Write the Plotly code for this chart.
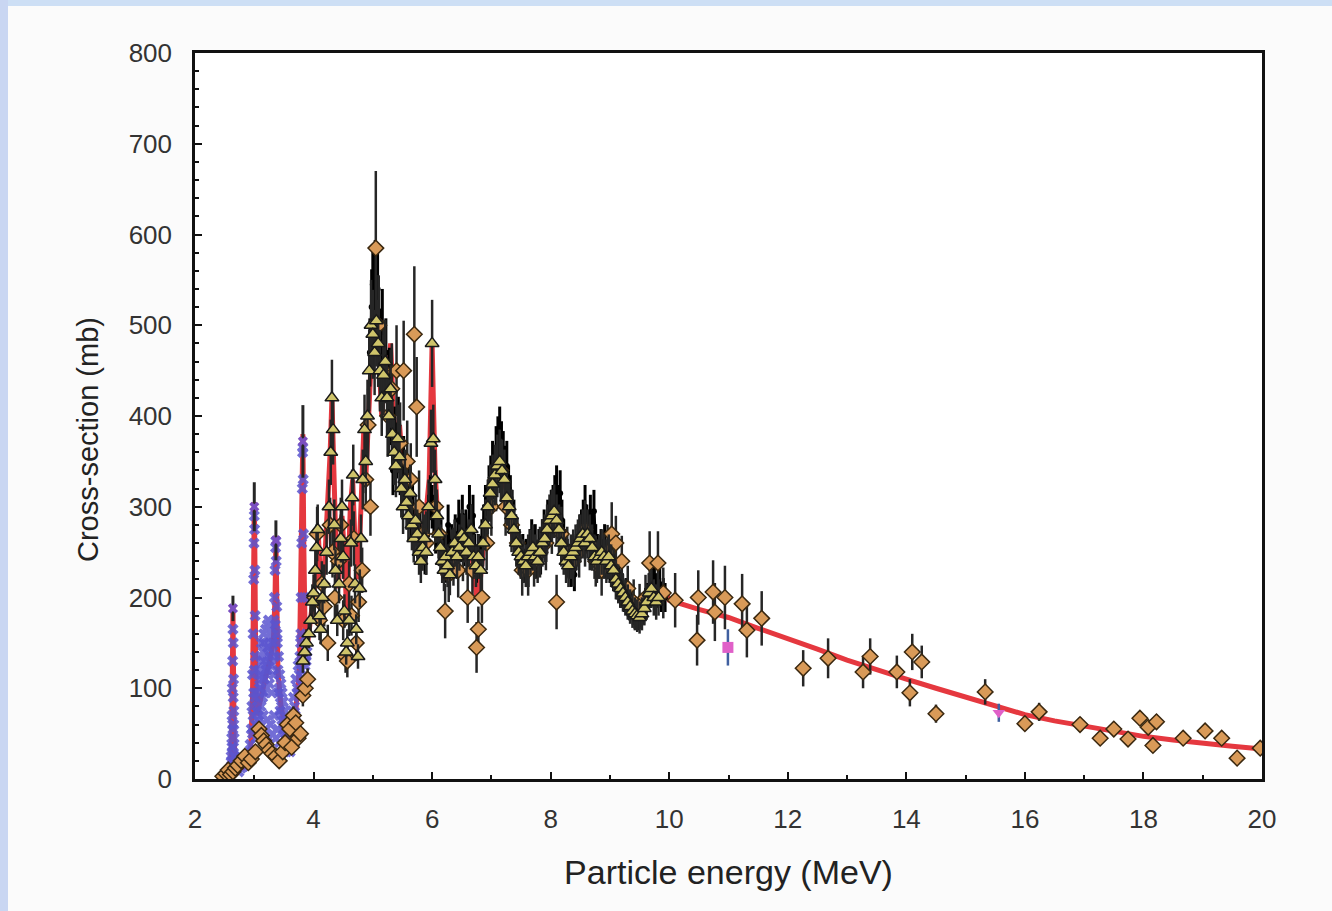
import plotly.graph_objects as go

# ---------------- data ----------------
# Evaluated cross-section curve (red)
RED_E = [2.40, 2.50, 2.56, 2.60, 2.62, 2.63, 2.64, 2.65, 2.66, 2.68,
         2.72, 2.80, 2.88, 2.94, 2.97, 2.99, 3.00, 3.01, 3.025, 3.04,
         3.08, 3.14, 3.20, 3.26, 3.32, 3.35, 3.365, 3.38, 3.40, 3.45,
         3.52, 3.58, 3.64, 3.70, 3.76, 3.80, 3.82, 3.835, 3.86, 3.90,
         3.95, 4.00, 4.05, 4.08, 4.12, 4.18, 4.22, 4.28, 4.31, 4.34,
         4.38, 4.42, 4.48, 4.52, 4.56, 4.62, 4.66, 4.70, 4.75, 4.80,
         4.85, 4.88, 4.92, 4.96, 5.00, 5.03, 5.07, 5.10, 5.15, 5.20,
         5.25, 5.30, 5.35, 5.40, 5.45, 5.50, 5.55, 5.60, 5.65, 5.70,
         5.75, 5.80, 5.85, 5.90, 5.95, 5.98, 6.00, 6.02, 6.05, 6.10,
         6.15, 6.20, 6.25, 6.30, 6.35, 6.40, 6.45, 6.50, 6.55, 6.60,
         6.65, 6.70, 6.75, 6.80, 6.85, 6.90, 6.95, 7.00, 7.05, 7.10,
         7.15, 7.20, 7.25, 7.30, 7.35, 7.40, 7.45, 7.50, 7.55, 7.60,
         7.65, 7.70, 7.75, 7.80, 7.85, 7.90, 7.95, 8.00, 8.05, 8.10,
         8.15, 8.20, 8.25, 8.30, 8.35, 8.40, 8.45, 8.50, 8.55, 8.60,
         8.65, 8.70, 8.75, 8.80, 8.85, 8.90, 8.95, 9.00, 9.05, 9.10,
         9.15, 9.20, 9.25, 9.30, 9.35, 9.40, 9.45, 9.50, 9.55, 9.60,
         9.65, 9.70, 9.75, 9.80, 9.85, 9.90, 9.95, 10.0, 10.5, 11.0,
         11.5, 12.0, 12.5, 13.0, 13.5, 14.0, 14.5, 15.0, 15.5, 16.0,
         16.5, 17.0, 17.5, 18.0, 18.5, 19.0, 19.5, 20.0]
RED_S = [0, 2, 5, 15, 45, 110, 190, 120, 45, 18,
         12, 12, 18, 35, 90, 220, 305, 250, 120, 70,
         80, 100, 115, 130, 150, 200, 268, 200, 120, 80,
         55, 40, 50, 75, 120, 250, 380, 260, 150, 150,
         175, 200, 230, 270, 215, 230, 280, 360, 420, 330,
         250, 210, 290, 250, 180, 300, 330, 260, 220, 300,
         390, 330, 380, 450, 500, 480, 520, 470, 400, 450,
         430, 480, 400, 370, 390, 350, 360, 330, 300, 280,
         300, 270, 260, 290, 330, 420, 480, 420, 340, 280,
         240, 230, 250, 220, 240, 260, 250, 270, 250, 240,
         260, 230, 200, 210, 250, 280, 300, 320, 340, 360,
         350, 330, 320, 300, 270, 260, 250, 240, 235, 240,
         245, 250, 240, 250, 260, 260, 270, 280, 300, 290,
         270, 250, 240, 235, 240, 250, 260, 270, 260, 270,
         265, 250, 240, 245, 250, 240, 250, 255, 240, 230,
         220, 215, 210, 200, 195, 190, 185, 180, 185, 190,
         200, 210, 215, 205, 200, 210, 205, 197, 187, 178,
         166, 155, 143, 131, 120, 110, 100, 90, 80, 71,
         64, 58, 53, 47, 43, 39, 36, 33]

# Dense low-energy data (blue crosses)
BLUE_E = [2.58, 2.60, 2.61, 2.62, 2.625, 2.63, 2.635, 2.64, 2.645, 2.65,
          2.655, 2.66, 2.67, 2.68, 2.70, 2.62, 2.63, 2.64, 2.65, 2.66,
          2.74, 2.78, 2.82, 2.86, 2.90, 2.93, 2.95, 2.96, 2.97, 2.98,
          2.99, 2.995, 3.00, 3.005, 3.01, 3.015, 3.02, 3.03, 3.04, 3.05,
          3.06, 3.07, 3.08, 3.09, 3.10, 3.11, 3.12, 3.13, 3.14, 3.15,
          3.16, 3.17, 3.18, 3.19, 3.20, 3.21, 3.22, 3.23, 3.24, 3.25,
          3.26, 3.27, 3.28, 3.29, 3.30, 3.31, 3.32, 3.33, 3.34, 3.35,
          3.36, 3.365, 3.37, 3.38, 3.39, 3.40, 3.41, 3.42, 3.43, 3.44,
          3.45, 3.46, 3.47, 3.48, 3.49, 3.50, 3.52, 3.54, 3.56, 3.58,
          3.60, 3.62, 3.64, 3.66, 3.68, 3.70, 3.72, 3.74, 3.76, 3.78,
          3.79, 3.80, 3.81, 3.815, 3.82, 3.825, 3.83, 3.84, 3.85, 3.87,
          3.89, 3.065, 3.095, 3.125, 3.155, 3.185, 3.215, 3.245, 3.275, 3.305,
          3.335, 3.365, 3.395, 3.425, 3.455, 3.485, 3.515, 3.545, 3.575, 3.605,
          3.635]
BLUE_S = [6, 12, 25, 45, 70, 100, 130, 165, 150, 110,
          75, 45, 25, 15, 10, 15, 30, 55, 35, 20,
          8, 12, 14, 18, 25, 38, 55, 80, 115, 160,
          220, 260, 290, 275, 230, 180, 135, 95, 75, 65,
          95, 120, 90, 110, 135, 100, 150, 120, 90, 140,
          160, 110, 130, 165, 140, 120, 170, 150, 175, 130,
          160, 145, 170, 150, 165, 140, 160, 175, 200, 230,
          255, 262, 240, 190, 150, 120, 135, 100, 115, 90,
          105, 80, 95, 70, 85, 60, 75, 55, 65, 50,
          40, 60, 75, 90, 80, 110, 95, 125, 115, 150,
          200, 260, 320, 360, 365, 330, 270, 200, 150, 135,
          140, 55, 60, 50, 70, 55, 65, 45, 60, 50,
          70, 45, 55, 40, 50, 35, 45, 30, 40, 30,
          45]
BLUE2_E = [2.605, 2.615, 2.625, 2.635, 2.645, 2.655, 2.665, 2.675,
           2.96, 2.97, 2.98, 2.99, 3.00, 3.01, 3.02, 3.03,
           3.045, 3.055, 3.075, 3.085, 3.105, 3.115, 3.135, 3.145,
           3.165, 3.175, 3.195, 3.205, 3.225, 3.235, 3.255, 3.265,
           3.285, 3.295, 3.315, 3.325, 3.345, 3.355, 3.385, 3.405,
           3.435, 3.465, 3.495, 3.53, 3.57, 3.61, 3.65, 3.69,
           3.73, 3.77, 3.785, 3.795, 3.835, 3.855, 3.875]
BLUE2_S = [8, 20, 35, 60, 90, 60, 25, 12,
           30, 50, 70, 95, 120, 90, 60, 45,
           50, 80, 70, 100, 115, 80, 130, 110,
           150, 95, 120, 100, 145, 120, 105, 135,
           125, 95, 150, 115, 135, 170, 160, 95,
           75, 65, 55, 50, 35, 45, 60, 70,
           100, 135, 160, 120, 110, 125, 130]

# Resonance-peak points with error bars
PEAK_E = [2.64, 3.00, 3.365, 3.82]
PEAK_S = [188, 300, 263, 372]
PEAK_ERR = [14, 27, 22, 40]

# Dense black data set
BLK_E = [4.95, 4.98, 5.00, 5.02, 5.04, 5.06, 5.08, 5.10, 5.13, 5.16,
         5.19, 5.22, 5.25, 5.28, 5.31, 5.34, 5.37, 5.40, 5.43, 5.46,
         5.49, 5.52, 5.55, 5.58, 5.61, 5.64, 5.67, 5.70, 5.73, 5.76,
         5.79, 5.82, 5.85, 5.88, 5.91, 5.94, 5.97, 6.00, 6.03, 6.06,
         6.09, 6.12, 6.15, 6.18, 6.21, 6.24, 6.27, 6.30, 6.33, 6.36,
         6.39, 6.42, 6.45, 6.48, 6.51, 6.54, 6.57, 6.60, 6.63, 6.66,
         6.69, 6.72, 6.75, 6.78, 6.81, 6.84, 6.87, 6.90, 6.93, 6.96,
         6.99, 7.02, 7.05, 7.08, 7.11, 7.14, 7.17, 7.20, 7.23, 7.26,
         7.29, 7.32, 7.35, 7.38, 7.41, 7.44, 7.47, 7.50, 7.53, 7.56,
         7.59, 7.62, 7.65, 7.68, 7.71, 7.74, 7.77, 7.80, 7.83, 7.86,
         7.89, 7.92, 7.95, 7.98, 8.01, 8.04, 8.07, 8.10, 8.13, 8.16,
         8.19, 8.22, 8.25, 8.28, 8.31, 8.34, 8.37, 8.40, 8.43, 8.46,
         8.49, 8.52, 8.55, 8.58, 8.61, 8.64, 8.67, 8.70, 8.73, 8.76,
         8.79, 8.82, 8.85, 8.88, 8.91, 8.94, 8.97, 9.00, 9.03, 9.06,
         9.09, 9.12, 9.15, 9.18, 9.21, 9.24, 9.27, 9.30, 9.33, 9.36,
         9.39, 9.42, 9.45, 9.48, 9.51, 9.54, 9.57, 9.60, 9.63, 9.66,
         9.69, 9.72, 9.75, 9.78, 9.81, 9.84, 9.87, 9.90, 9.93]
BLK_S = [470, 520, 545, 530, 550, 520, 540, 500, 480, 500,
         460, 470, 430, 440, 400, 340, 380, 360, 390, 340,
         320, 350, 330, 300, 320, 290, 300, 270, 285, 260,
         275, 250, 265, 245, 270, 290, 310, 300, 290, 270,
         280, 255, 265, 240, 250, 235, 280, 245, 260, 240,
         270, 250, 285, 260, 290, 255, 275, 250, 300, 270,
         290, 250, 235, 250, 240, 265, 280, 300, 290, 320,
         330, 345, 335, 360, 370, 380, 365, 355, 340, 345,
         320, 310, 295, 285, 270, 260, 255, 240, 250, 235,
         245, 230, 255, 265, 250, 260, 240, 255, 245, 265,
         275, 260, 285, 280, 295, 300, 310, 320, 300, 315,
         285, 265, 255, 245, 240, 230, 245, 225, 250, 260,
         270, 275, 285, 300, 280, 275, 290, 270, 295, 260,
         250, 240, 255, 245, 260, 240, 250, 235, 245, 225,
         230, 215, 220, 205, 210, 200, 205, 195, 190, 195,
         185, 180, 185, 178, 182, 190, 185, 195, 200, 210,
         205, 215, 220, 210, 205, 215, 200, 205, 200]

# Triangle data set
TRI_E = [3.82, 3.85, 3.88, 3.92, 3.95, 3.98, 4.00, 4.03, 4.05, 4.07,
         4.10, 4.12, 4.15, 4.18, 4.22, 4.26, 4.29, 4.31, 4.33, 4.35,
         4.37, 4.40, 4.43, 4.46, 4.48, 4.50, 4.52, 4.55, 4.57, 4.60,
         4.63, 4.65, 4.67, 4.70, 4.72, 4.75, 4.78, 4.80, 4.83, 4.86,
         4.88, 4.91, 4.94, 4.97, 5.00, 5.03, 5.06, 5.09, 5.12, 5.15,
         5.18, 5.21, 5.24, 5.27, 5.30, 5.33, 5.36, 5.39, 5.42, 5.45,
         5.48, 5.51, 5.54, 5.57, 5.60, 5.63, 5.66, 5.69, 5.72, 5.75,
         5.78, 5.81, 5.84, 5.87, 5.90, 5.94, 5.98, 6.00, 6.02, 6.05,
         6.08, 6.11, 6.14, 6.17, 6.20, 6.23, 6.26, 6.30, 6.34, 6.38,
         6.42, 6.46, 6.50, 6.54, 6.58, 6.62, 6.66, 6.70, 6.74, 6.78,
         6.82, 6.86, 6.90, 6.94, 6.98, 7.02, 7.06, 7.10, 7.14, 7.18,
         7.22, 7.26, 7.30, 7.34, 7.38, 7.42, 7.46, 7.50, 7.54, 7.58,
         7.62, 7.66, 7.70, 7.74, 7.78, 7.82, 7.86, 7.90, 7.94, 7.98,
         8.02, 8.06, 8.10, 8.14, 8.18, 8.22, 8.26, 8.30, 8.34, 8.38,
         8.42, 8.46, 8.50, 8.54, 8.58, 8.62, 8.66, 8.70, 8.74, 8.78,
         8.82, 8.86, 8.90, 8.94, 8.98, 9.02, 9.06, 9.10, 9.14, 9.18,
         9.22, 9.26, 9.30, 9.34, 9.38, 9.42, 9.46, 9.50, 9.54, 9.58,
         9.62, 9.66, 9.70, 9.74, 9.78, 9.82]
TRI_S = [130, 140, 150, 160, 175, 195, 205, 230, 255, 275,
         180, 165, 200, 215, 250, 300, 360, 420, 385, 280,
         230, 175, 215, 265, 300, 245, 185, 140, 150, 175,
         260, 310, 335, 215, 165, 135, 210, 265, 330, 385,
         350, 400, 450, 500, 490, 470, 505, 480, 450, 420,
         445, 460, 420, 400, 430, 380, 360, 345, 375, 355,
         320, 300, 330, 305, 290, 315, 280, 265, 285, 270,
         250, 240, 255, 265, 250, 300, 370, 480, 375, 330,
         290, 270, 255, 240, 230, 245, 235, 225, 250, 260,
         245, 255, 270, 265, 250, 260, 275, 245, 235, 245,
         230, 260, 280, 300, 315, 325, 335, 345, 350, 340,
         330, 310, 300, 290, 275, 260, 250, 245, 240, 235,
         245, 250, 255, 245, 240, 250, 260, 265, 275, 285,
         290, 295, 285, 275, 260, 250, 240, 235, 245, 250,
         255, 260, 265, 270, 260, 270, 265, 255, 245, 240,
         245, 250, 245, 240, 245, 235, 230, 220, 215, 210,
         205, 200, 195, 190, 185, 182, 180, 178, 182, 188,
         195, 205, 210, 200, 195, 200]

# Diamond data set
DIA_E = [2.47, 2.52, 2.56, 2.60, 2.64, 2.68, 2.72, 2.78, 2.84, 2.90,
         2.95, 3.02, 3.08, 3.12, 3.16, 3.20, 3.25, 3.30, 3.36, 3.42,
         3.48, 3.52, 3.56, 3.60, 3.63, 3.66, 3.70, 3.74, 3.78, 3.82,
         3.86, 3.90, 4.02, 4.06, 4.10, 4.14, 4.18, 4.24, 4.28, 4.32,
         4.36, 4.42, 4.46, 4.50, 4.54, 4.57, 4.60, 4.64, 4.68, 4.72,
         4.76, 4.82, 4.88, 4.92, 4.96, 5.05, 5.10, 5.18, 5.25, 5.32,
         5.40, 5.46, 5.52, 5.58, 5.64, 5.70, 5.74, 5.78, 5.84, 5.90,
         6.06, 6.12, 6.22, 6.28, 6.36, 6.44, 6.52, 6.60, 6.68, 6.75,
         6.78, 6.84, 6.92, 7.00, 7.08, 7.16, 7.24, 7.34, 7.44, 7.52,
         7.62, 7.72, 7.82, 7.92, 8.02, 8.10, 8.18, 8.28, 8.38, 8.48,
         8.58, 8.66, 8.76, 8.86, 8.96, 9.03, 9.10, 9.20, 9.30, 9.40,
         9.50, 9.60, 9.67, 9.81, 9.90, 10.10, 10.47, 10.49, 10.74, 10.77,
         10.94, 11.23, 11.31, 11.56, 12.26, 12.68, 13.27, 13.39, 13.84, 14.10,
         14.26, 14.06, 14.50, 15.33, 16.00, 16.24, 16.93, 17.27, 17.50, 17.74,
         17.94, 18.08, 18.16, 18.22, 18.67, 19.04, 19.32, 19.58, 19.97]
DIA_S = [3, 6, 10, 5, 8, 12, 15, 20, 25, 18,
         22, 30, 55, 48, 42, 38, 32, 28, 25, 20,
         30, 40, 60, 55, 35, 70, 62, 45, 50, 92,
         100, 110, 200, 270, 175, 215, 190, 150, 280, 250,
         200, 240, 280, 175, 135, 130, 215, 180, 265, 150,
         195, 230, 330, 390, 300, 585, 500, 450, 400, 430,
         450, 370, 450, 350, 330, 490, 410, 300, 270, 260,
         300, 270, 185, 225, 245, 230, 250, 200, 230, 145,
         165, 200, 260, 300, 330, 340, 300, 280, 260, 230,
         230, 240, 250, 260, 280, 195, 270, 250, 240, 250,
         275, 260, 240, 230, 250, 270, 260, 240, 210, 195,
         190, 200, 238, 238, 205, 197, 153, 200, 206, 184,
         200, 193, 164, 177, 122, 133, 118, 135, 118, 140,
         129, 95, 72, 96, 61, 74, 60, 45, 55, 44,
         67, 57, 37, 63, 45, 53, 45, 23, 34]
DIA_ERR = [4, 4, 5, 4, 5, 5, 6, 6, 7, 6,
           6, 7, 8, 8, 7, 7, 7, 6, 6, 6,
           6, 7, 9, 8, 7, 10, 9, 8, 8, 12,
           12, 12, 25, 30, 22, 25, 22, 20, 30, 28,
           25, 28, 30, 22, 18, 18, 25, 22, 30, 20,
           22, 25, 35, 40, 32, 85, 55, 50, 45, 50,
           50, 45, 55, 45, 40, 75, 55, 40, 35, 35,
           40, 35, 30, 30, 32, 30, 32, 28, 30, 28,
           25, 28, 30, 32, 35, 35, 32, 30, 28, 28,
           28, 28, 28, 30, 32, 30, 30, 28, 28, 28,
           32, 30, 28, 28, 30, 35, 30, 28, 25, 25,
           25, 25, 35, 35, 28, 30, 28, 30, 35, 32,
           35, 33, 30, 30, 20, 22, 18, 20, 18, 20,
           18, 15, 10, 14, 8, 10, 8, 7, 8, 7,
           8, 8, 7, 8, 6, 7, 6, 5, 6]

# Other measurements (magenta)
MAG_E = [10.99, 15.56]
MAG_S = [145, 73]
MAG_ERR = [20, 10]

X_TITLE = "Particle energy (MeV)"
Y_TITLE = "Cross-section (mb)"

# ---------------- figure ----------------
ERRC = "#262626"
BLUEC = "#5b55cf"
fig = go.Figure()

fig.add_trace(go.Scatter(x=RED_E, y=RED_S, mode="lines",
                         line=dict(color="#e5383f", width=5), hoverinfo="skip"))

for bx, by in ((BLUE_E, BLUE_S), (BLUE2_E, BLUE2_S)):
    fig.add_trace(go.Scatter(x=bx, y=by, mode="markers",
                             marker=dict(symbol="x", size=10, color=BLUEC,
                                         line=dict(width=0)), opacity=0.85))

fig.add_trace(go.Scatter(x=PEAK_E, y=PEAK_S, mode="markers",
                         marker=dict(symbol="x", size=9, color="#7a4fc0"),
                         error_y=dict(type="data", array=PEAK_ERR, color=ERRC,
                                      thickness=3, width=0)))

fig.add_trace(go.Scatter(x=BLK_E, y=BLK_S, mode="lines+markers",
                         line=dict(color="#000000", width=3),
                         marker=dict(symbol="circle", size=6, color="#000000"),
                         error_y=dict(type="percent", value=8, color="#000000",
                                      thickness=3, width=0)))

fig.add_trace(go.Scatter(x=DIA_E, y=DIA_S, mode="markers",
                         marker=dict(symbol="diamond", size=12, color="#d99a58",
                                     line=dict(color="#3a2810", width=1.5)),
                         error_y=dict(type="data", array=DIA_ERR, color=ERRC,
                                      thickness=2.5, width=0)))

fig.add_trace(go.Scatter(x=TRI_E, y=TRI_S, mode="markers",
                         marker=dict(symbol="triangle-up", size=12, color="#cfc46a",
                                     line=dict(color="#1a1a1a", width=1.5)),
                         error_y=dict(type="percent", value=10, color=ERRC,
                                      thickness=2.5, width=0)))

fig.add_trace(go.Scatter(x=MAG_E, y=MAG_S, mode="markers",
                         marker=dict(symbol=["square", "triangle-down"], size=11,
                                     color="#e060c8"),
                         error_y=dict(type="data", array=MAG_ERR, color="#4060a0",
                                      thickness=2.5, width=0)))

FONT = "Liberation Sans, Arial, sans-serif"
axis_common = dict(showline=True, linecolor="#111111", linewidth=2.5, mirror=True,
                   showgrid=False, zeroline=False, ticks="inside", tickcolor="#111111",
                   tickwidth=1.5, ticklen=7,
                   tickfont=dict(family=FONT, size=26, color="#333333"))

fig.update_xaxes(range=[2, 20], tick0=2, dtick=2,
                 minor=dict(dtick=1, ticks="inside", ticklen=4, tickcolor="#111111",
                            tickwidth=1.5),
                 ticklabelstandoff=15,
                 title=dict(text=X_TITLE, standoff=28,
                            font=dict(family=FONT, size=34, color="#222222")),
                 **axis_common)
fig.update_yaxes(range=[0, 800], tick0=0, dtick=100,
                 minor=dict(dtick=20, ticks="inside", ticklen=4, tickcolor="#111111",
                            tickwidth=1.5),
                 ticklabelstandoff=15,
                 **axis_common)

W, H = 1332, 911
L, R, T, B = 195, 70, 53, 132
pw, ph = W - L - R, H - T - B

# y-axis title (placed as in the reference, slightly below centre)
fig.add_annotation(text=Y_TITLE, xref="paper", yref="paper",
                   x=(88 - L) / pw, y=1 - (440 - T) / ph, xanchor="center", yanchor="middle",
                   textangle=-90, showarrow=False,
                   font=dict(family=FONT, size=29, color="#222222"))

# light-blue page strips (top and left edges)
fig.add_shape(type="rect", xref="paper", yref="paper", layer="below",
              x0=-L / pw, x1=(W - L) / pw, y0=1 + (T - 6) / ph, y1=1 + T / ph,
              line=dict(width=0), fillcolor="#cddff5")
fig.add_shape(type="rect", xref="paper", yref="paper", layer="below",
              x0=-L / pw, x1=(8 - L) / pw, y0=-B / ph, y1=1 + T / ph,
              line=dict(width=0), fillcolor="#c9d6f2")

fig.update_layout(width=W, height=H, margin=dict(l=L, r=R, t=T, b=B, autoexpand=False),
                  paper_bgcolor="#fbfbfb", plot_bgcolor="#ffffff",
                  showlegend=False, font=dict(family=FONT))

fig.write_html("out.html", config={"displayModeBar": False},
               post_script="document.body.style.margin='0';document.body.style.overflow='hidden';")
